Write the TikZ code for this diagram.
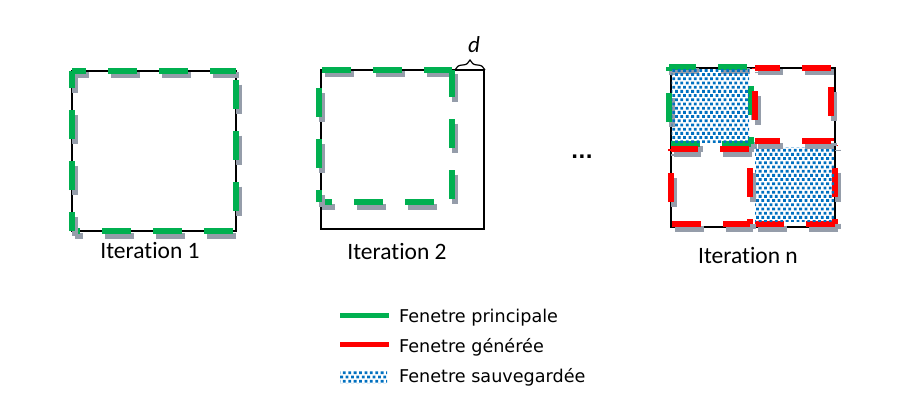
\documentclass[tikz,border=0pt]{standalone}
\usepackage{fontspec}
\setmainfont{DejaVu Sans}
\newfontfamily\calfont[Ligatures={NoCommon,NoContextual}]{Carlito}
\newfontfamily\dejabold{DejaVu Sans}
\usetikzlibrary{patterns,decorations.pathreplacing}
\definecolor{pgreen}{HTML}{00B050}
\definecolor{pred}{HTML}{FF0000}
\definecolor{pblue}{HTML}{0070C0}
\definecolor{pshadow}{HTML}{959DAA}
\pgfdeclarepatternformonly{bluedots}{\pgfqpoint{-1pt}{-1pt}}{\pgfqpoint{6pt}{9pt}}{\pgfqpoint{5.4pt}{8.4pt}}{%
  \pgfpathrectangle{\pgfqpoint{0pt}{0pt}}{\pgfqpoint{2.8pt}{2.8pt}}%
  \pgfpathrectangle{\pgfqpoint{2.7pt}{4.2pt}}{\pgfqpoint{2.8pt}{2.8pt}}%
  \pgfusepath{fill}}
\tikzset{
  frame/.style={draw=black, line width=1.3pt},
  dline/.style={line width=6pt, dash pattern=on 29pt off 22pt, dash phase=#1,
    preaction={draw=pshadow, line width=6pt, dash pattern=on 29pt off 22pt, dash phase=#1,
      transform canvas={shift={(3pt,-4.5pt)}}}},
  gd/.style={dline=#1, draw=pgreen},
  rd/.style={dline=#1, draw=pred},
  saved/.style={pattern=bluedots, pattern color=pblue},
  itlabel/.style={anchor=base, font=\calfont\fontsize{23.5}{26}\selectfont, inner sep=0pt},
  legtext/.style={anchor=base west, font=\fontsize{17.6}{20}\selectfont, inner sep=0pt},
}
\begin{document}
\begin{tikzpicture}[x=1pt,y=-1pt]
\fill[white] (0,0) rectangle (921,412);
\useasboundingbox (0,0) rectangle (921,412);

% ---------- Iteration 1 ----------
\draw[frame] (72,71) rectangle (236,231);
\draw[gd=15] (72,71) -- (236,71);
\draw[gd=42] (236,71) -- (236,231);
\draw[gd=48] (236,231) -- (72,231);
\draw[gd=10] (72,231) -- (72,71);
\node[itlabel] (it1) at (150,258) {Iteration 1};

% ---------- Iteration 2 ----------
\draw[frame] (321,70) rectangle (484,229);
\draw[gd=48] (319,70) -- (452,70);
\draw[gd=2] (452,70) -- (452,202);
\draw[gd=33] (452,202) -- (319,202);
\draw[gd=17] (319,202) -- (319,70);
\draw[line width=1.2pt, decorate, decoration={brace, amplitude=10pt}] (455,70) -- (485,70);
\node[anchor=base, font=\calfont\itshape\fontsize{23}{26}\selectfont, inner sep=0pt] (d) at (474,53) {d};
\node[itlabel] (it2) at (397,259) {Iteration 2};

% ---------- dots ----------
\node[anchor=base, font=\dejabold\bfseries\fontsize{19}{22}\selectfont, inner sep=0pt] (dots) at (582,158) {...};

% ---------- Iteration n ----------
\draw[frame] (671,68) rectangle (835,227);
% main window (top-left)
\draw[gd=2] (669,67) -- (751,67);
\draw[gd=32] (751,67) -- (751,144);
\draw[gd=0] (751,144) -- (669,144);
\draw[gd=29] (669,144) -- (669,67);
% generated window (bottom-right), under its saved fill
\draw[rd=28] (835,145) -- (835,224);
\draw[rd=0] (835,224) -- (752,224);
% saved fills
\fill[saved] (671.5,70) rectangle (749,142);
\fill[saved] (755,147) rectangle (834,221);
% generated window (top-right)
\draw[rd=4] (755,68) -- (831,68);
\draw[rd=32] (831,68) -- (831,141);
\draw[rd=0] (831,141) -- (755,141);
\draw[rd=30] (755,141) -- (755,68);
% generated window (bottom-left)
\draw[rd=2] (671,149) -- (750,149);
\draw[rd=32] (750,149) -- (750,224);
\draw[rd=2] (750,224) -- (671,224);
\draw[rd=29] (671,224) -- (671,149);
\node[itlabel] (itn) at (748,263) {Iteration n};

% ---------- Legend ----------
\draw[pgreen, line width=5pt] (340,315) -- (389,315);
\draw[pred, line width=5pt] (340,344) -- (389,344);
\fill[saved] (340,370) rectangle (387,383);
\node[legtext] (l1) at (399,322) {Fenetre principale};
\node[legtext] (l2) at (399,352) {Fenetre générée};
\node[legtext] (l3) at (399,382) {Fenetre sauvegardée};
\end{tikzpicture}
\end{document}
